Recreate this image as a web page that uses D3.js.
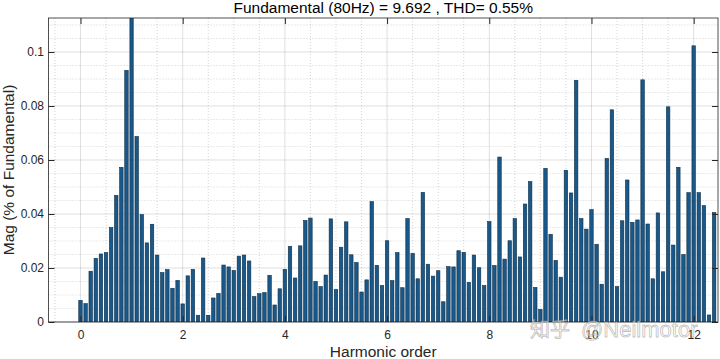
<!DOCTYPE html>
<html><head><meta charset="utf-8">
<script src="https://cdn.jsdelivr.net/npm/d3@7/dist/d3.min.js"></script>
<style>body{margin:0;background:#fff}svg{display:block}</style>
</head><body>
<svg id="chart" width="720" height="359"></svg>
<script>
// ---- data ----
const harmonicOrder = [
 0.0,0.1,0.2,0.3,0.4,0.5,0.6,0.7,0.8,0.9,1.0,1.1,1.2,1.3,1.4,1.5,1.6,1.7,1.8,1.9,
 2.0,2.1,2.2,2.3,2.4,2.5,2.6,2.7,2.8,2.9,3.0,3.1,3.2,3.3,3.4,3.5,3.6,3.7,3.8,3.9,
 4.0,4.1,4.2,4.3,4.4,4.5,4.6,4.7,4.8,4.9,5.0,5.1,5.2,5.3,5.4,5.5,5.6,5.7,5.8,5.9,
 6.0,6.1,6.2,6.3,6.4,6.5,6.6,6.7,6.8,6.9,7.0,7.1,7.2,7.3,7.4,7.5,7.6,7.7,7.8,7.9,
 8.0,8.1,8.2,8.3,8.4,8.5,8.6,8.7,8.8,8.9,9.0,9.1,9.2,9.3,9.4,9.5,9.6,9.7,9.8,9.9,
 10.0,10.1,10.2,10.3,10.4,10.5,10.6,10.7,10.8,10.9,11.0,11.1,11.2,11.3,11.4,11.5,11.6,11.7,11.8,11.9,
 12.0,12.1,12.2,12.3,12.4
];
const magnitude = [
 0.0080,0.0068,0.0188,0.0236,0.0252,0.0257,0.0350,0.0469,0.0573,0.0932,
 100,0.0687,0.0398,0.0293,0.0362,0.0248,0.0183,0.0194,0.0125,0.0154,
 0.0067,0.0171,0.0195,0.0025,0.0237,0.0025,0.0089,0.0106,0.0211,0.0204,
 0.0191,0.0244,0.0248,0.0226,0.0094,0.0105,0.0109,0.0173,0.0063,0.0123,
 0.0195,0.0280,0.0163,0.0282,0.0376,0.0385,0.0150,0.0131,0.0174,0.0382,
 0.0120,0.0277,0.0371,0.0249,0.0220,0.0111,0.0156,0.0446,0.0210,0.0135,
 0.0301,0.0153,0.0257,0.0127,0.0383,0.0254,0.0160,0.0480,0.0214,0.0170,
 0.0190,0.0075,0.0205,0.0204,0.0264,0.0258,0.0147,0.0248,0.0201,0.0135,
 0.0372,0.0209,0.0611,0.0233,0.0301,0.0383,0.0241,0.0437,0.0520,0.0128,
 0.0046,0.0569,0.0325,0.0228,0.0166,0.0562,0.0478,0.0895,0.0383,0.0344,
 0.0416,0.0288,0.0140,0.0606,0.0786,0.0131,0.0375,0.0526,0.0369,0.0378,
 0.0897,0.0363,0.0160,0.0404,0.0186,0.0797,0.0285,0.0573,0.0250,0.0479,
 0.1023,0.0479,0.0431,0.0026,0.0406
];
const xTicks = [0,2,4,6,8,10,12];
const xTickLabels = ["0","2","4","6","8","10","12"];
const yTicks = [0,0.02,0.04,0.06,0.08,0.1];
const yTickLabels = ["0","0.02","0.04","0.06","0.08","0.1"];
const xMinor = [-0.5,0.5,1,1.5,2.5,3,3.5,4.5,5,5.5,6.5,7,7.5,8.5,9,9.5,10.5,11,11.5,12.5];
const yMinor = [0.005,0.01,0.015,0.025,0.03,0.035,0.045,0.05,0.055,0.065,0.07,0.075,0.085,0.09,0.095,0.105,0.11];
const titleText = "Fundamental (80Hz) = 9.692 , THD= 0.55%";
const xLabel = "Harmonic order";
const yLabel = "Mag (% of Fundamental)";
const watermark = ["知乎", "@Neilmotor"];

// ---- layout ----
const L = 48.5, R = 718, T = 18, B = 322;
const font = "'Liberation Sans', Arial, Helvetica, sans-serif";
const svg = d3.select("#chart");
const x = d3.scaleLinear().domain([-0.626, 12.476]).range([L, R]);
const y = d3.scaleLinear().domain([0, 0.1126]).range([B, T]);
const axisCol = "#262626";

svg.append("defs").append("clipPath").attr("id","clip")
  .append("rect").attr("x",L).attr("y",T).attr("width",R-L).attr("height",B-T);

// grid
const g = svg.append("g");
g.selectAll(".xm").data(xMinor.filter(v=>x(v)>L&&x(v)<R)).join("line")
  .attr("x1",d=>x(d)).attr("x2",d=>x(d)).attr("y1",T).attr("y2",B)
  .attr("stroke",axisCol).attr("stroke-opacity",0.25).attr("stroke-dasharray","1,2").attr("stroke-width",0.8);
g.selectAll(".ym").data(yMinor).join("line")
  .attr("y1",d=>y(d)).attr("y2",d=>y(d)).attr("x1",L).attr("x2",R)
  .attr("stroke",axisCol).attr("stroke-opacity",0.25).attr("stroke-dasharray","1,2").attr("stroke-width",0.8);
g.selectAll(".xg").data(xTicks).join("line")
  .attr("x1",d=>x(d)).attr("x2",d=>x(d)).attr("y1",T).attr("y2",B)
  .attr("stroke",axisCol).attr("stroke-opacity",0.15).attr("stroke-width",1);
g.selectAll(".yg").data(yTicks).join("line")
  .attr("y1",d=>y(d)).attr("y2",d=>y(d)).attr("x1",L).attr("x2",R)
  .attr("stroke",axisCol).attr("stroke-opacity",0.15).attr("stroke-width",1);

// bars
const bw = x(0.068) - x(0);
svg.append("g").attr("clip-path","url(#clip)")
  .selectAll("rect").data(harmonicOrder).join("rect")
  .attr("x",(d)=>x(d)-bw/2).attr("width",bw)
  .attr("y",(d,i)=>y(magnitude[i])).attr("height",(d,i)=>B-y(magnitude[i]))
  .attr("fill","#19588a").attr("stroke","#0f2f47").attr("stroke-width",0.6);

// axes
function styleAxis(sel, labels){
  sel.select(".domain").remove();
  sel.selectAll(".tick line").attr("stroke",axisCol);
  sel.selectAll(".tick text").attr("fill",axisCol).style("font-family",font).style("font-size","12px");
  if(!labels) sel.selectAll(".tick text").remove();
}
svg.append("g").attr("transform",`translate(0,${B})`)
  .call(d3.axisBottom(x).tickValues(xTicks).tickFormat((d,i)=>xTickLabels[i]).tickSize(-6).tickPadding(8))
  .call(s=>styleAxis(s,true));
svg.append("g").attr("transform",`translate(0,${T})`)
  .call(d3.axisTop(x).tickValues(xTicks).tickSize(-6))
  .call(s=>styleAxis(s,false));
svg.append("g").attr("transform",`translate(${L},0)`)
  .call(d3.axisLeft(y).tickValues(yTicks).tickFormat((d,i)=>yTickLabels[i]).tickSize(-6).tickPadding(4.5))
  .call(s=>styleAxis(s,true));
svg.append("g").attr("transform",`translate(${R},0)`)
  .call(d3.axisRight(y).tickValues(yTicks).tickSize(-6))
  .call(s=>styleAxis(s,false));

// box
svg.append("rect").attr("x",L).attr("y",T).attr("width",R-L).attr("height",B-T)
  .attr("fill","none").attr("stroke",axisCol).attr("stroke-width",0.8);

// texts
svg.append("text").attr("x",(L+R)/2).attr("y",13).attr("text-anchor","middle")
  .style("font-family",font).style("font-size","15.5px").attr("fill","#000").text(titleText);
svg.append("text").attr("x",(L+R)/2).attr("y",357).attr("text-anchor","middle")
  .style("font-family",font).style("font-size","15.5px").attr("fill",axisCol).text(xLabel);
svg.append("text").attr("transform",`translate(14,${(T+B)/2}) rotate(-90)`).attr("text-anchor","middle")
  .style("font-family",font).style("font-size","15.5px").attr("fill",axisCol).text(yLabel);

// watermark (semi-transparent, overlaps the axis like the reference)
svg.append("text").attr("x",530).attr("y",337)
  .style("font-family","'Noto Sans CJK SC', sans-serif").style("font-size","20px")
  .attr("fill","#ffffff").attr("fill-opacity",0.55).attr("stroke","#8a8a8a").attr("stroke-opacity",0.55).attr("stroke-width",0.8)
  .text(watermark[0]);
svg.append("text").attr("x",581).attr("y",337)
  .style("font-family",font).style("font-size","22px")
  .attr("fill","#ffffff").attr("fill-opacity",0.55).attr("stroke","#8a8a8a").attr("stroke-opacity",0.55).attr("stroke-width",0.8)
  .text(watermark[1]);
</script>
</body></html>
